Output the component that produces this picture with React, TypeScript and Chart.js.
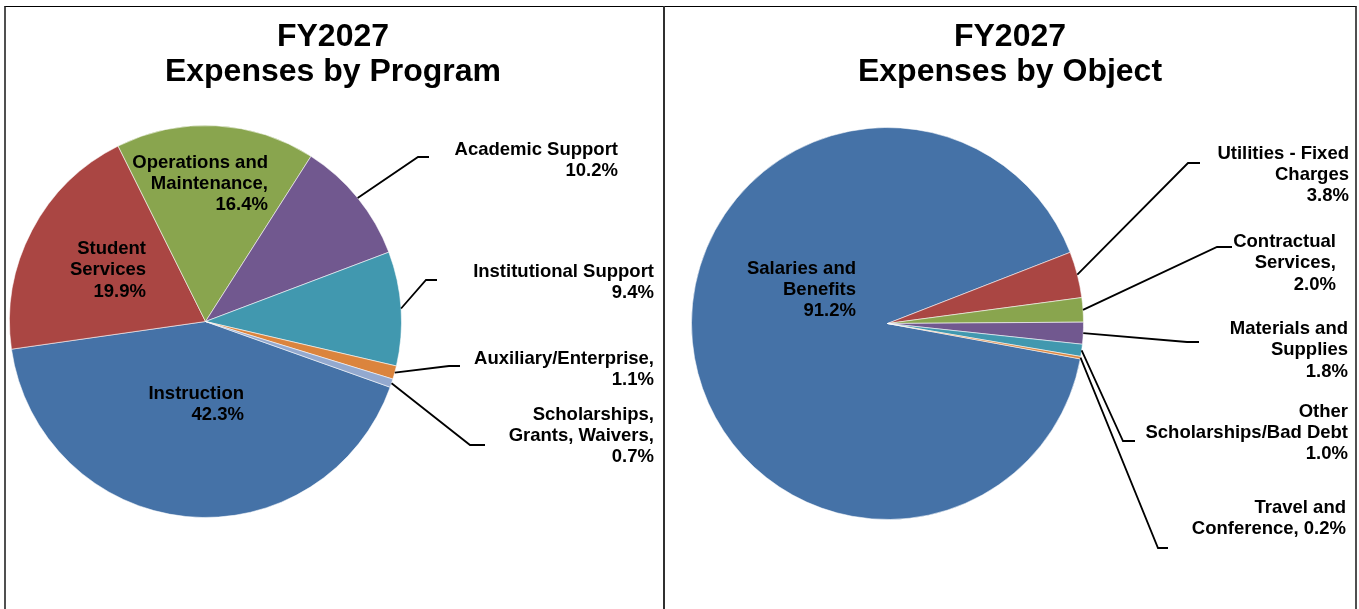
import React, { useEffect, useRef } from 'react';
import { Chart, registerables } from 'chart.js';

Chart.register(...registerables);

// ---------- DATA ----------
const programCategories = [
  'Instruction',
  'Student Services',
  'Operations and Maintenance',
  'Academic Support',
  'Institutional Support',
  'Auxiliary/Enterprise',
  'Scholarships, Grants, Waivers',
];
const programValues = [42.3, 19.9, 16.4, 10.2, 9.4, 1.1, 0.7];
const programLabelLines = [
  ['Instruction', '{pct}'],
  ['Student', 'Services', '{pct}'],
  ['Operations and', 'Maintenance,', '{pct}'],
  ['Academic Support', '{pct}'],
  ['Institutional Support', '{pct}'],
  ['Auxiliary/Enterprise,', '{pct}'],
  ['Scholarships,', 'Grants, Waivers,', '{pct}'],
];

const objectCategories = [
  'Salaries and Benefits',
  'Utilities - Fixed Charges',
  'Contractual Services',
  'Materials and Supplies',
  'Other Scholarships/Bad Debt',
  'Travel and Conference',
];
const objectValues = [91.2, 3.8, 2.0, 1.8, 1.0, 0.2];
const objectLabelLines = [
  ['Salaries and', 'Benefits', '{pct}'],
  ['Utilities - Fixed', 'Charges', '{pct}'],
  ['Contractual', 'Services,', '{pct}'],
  ['Materials and', 'Supplies', '{pct}'],
  ['Other', 'Scholarships/Bad Debt', '{pct}'],
  ['Travel and', 'Conference, {pct}'],
];

const programTitle = ['FY2027', 'Expenses by Program'];
const objectTitle = ['FY2027', 'Expenses by Object'];

// ---------- STYLE / LAYOUT ----------
const programColors = ['#4572A7', '#AA4643', '#89A54E', '#71588F', '#4198AF', '#DB843D', '#93A9CF'];
const objectColors = ['#4572A7', '#AA4643', '#89A54E', '#71588F', '#4198AF', '#DB843D'];

const FONT = '"Liberation Sans", Arial, Helvetica, sans-serif';
const W = 1359;
const H = 609;

// label placement: x = right edge of text, y = first baseline; elbow/end for leader lines
const programLayout = [
  { x: 244, y: 398.5 },
  { x: 146, y: 254 },
  { x: 268, y: 167.5 },
  { x: 618, y: 154.5, elbow: [418, 157], end: 429 },
  { x: 654, y: 276.5, elbow: [426, 280], end: 437 },
  { x: 654, y: 363.5, elbow: [449, 366], end: 460 },
  { x: 654, y: 419.5, elbow: [470, 445], end: 485 },
];
const objectLayout = [
  { x: 856, y: 273.5 },
  { x: 1349, y: 158.5, elbow: [1188, 163], end: 1200 },
  { x: 1336, y: 247, elbow: [1217, 247], end: 1232 },
  { x: 1348, y: 334, elbow: [1187, 342], end: 1199 },
  { x: 1348, y: 416.5, elbow: [1123, 441], end: 1135 },
  { x: 1346, y: 512.5, elbow: [1158, 548], end: 1168 },
];

const pieLabelPlugin = {
  id: 'pieLabels',
  afterDraw(chart: any, _args: any, opts: any) {
    const ctx = chart.ctx;
    ctx.save();
    ctx.fillStyle = '#000';
    ctx.textBaseline = 'alphabetic';
    // title
    ctx.font = `bold ${opts.titleSize}px ${FONT}`;
    ctx.textAlign = 'center';
    opts.title.forEach((line: string, i: number) => {
      ctx.fillText(line, opts.titleX, opts.titleY + i * opts.titleLineHeight);
    });
    // labels & leader lines
    const meta = chart.getDatasetMeta(0);
    const values = chart.data.datasets[0].data;
    ctx.strokeStyle = '#000';
    ctx.lineWidth = 1.8;
    ctx.lineJoin = 'miter';
    meta.data.forEach((arc: any, i: number) => {
      const lay = opts.layout[i];
      if (!lay) return;
      const p = arc.getProps(['x', 'y', 'startAngle', 'endAngle', 'outerRadius'], true);
      const mid = (p.startAngle + p.endAngle) / 2;
      if (lay.elbow) {
        const sx = p.x + Math.cos(mid) * p.outerRadius;
        const sy = p.y + Math.sin(mid) * p.outerRadius;
        ctx.beginPath();
        ctx.moveTo(sx, sy);
        ctx.lineTo(lay.elbow[0], lay.elbow[1]);
        ctx.lineTo(lay.end, lay.elbow[1]);
        ctx.stroke();
      }
      const pct = Number(values[i]).toFixed(1) + '%';
      ctx.font = `bold ${opts.labelSize}px ${FONT}`;
      ctx.textAlign = 'right';
      opts.lines[i].forEach((s: string, j: number) => {
        ctx.fillText(s.replace('{pct}', pct), lay.x, lay.y + j * opts.labelLineHeight);
      });
    });
    ctx.restore();
  },
};

function makeConfig(
  categories: string[],
  values: number[],
  colors: string[],
  rotation: number,
  padding: any,
  title: string[],
  titleX: number,
  lines: string[][],
  layout: any[]
): any {
  return {
    type: 'pie',
    data: {
      labels: categories,
      datasets: [
        {
          data: values,
          backgroundColor: colors,
          borderColor: 'rgba(255,255,255,0.55)',
          borderWidth: 1,
        },
      ],
    },
    plugins: [pieLabelPlugin],
    options: {
      responsive: false,
      animation: false,
      events: [],
      rotation,
      layout: { padding },
      plugins: {
        legend: { display: false },
        tooltip: { enabled: false },
        title: { display: false },
        pieLabels: {
          title,
          titleX,
          titleY: 45.5,
          titleSize: 32,
          titleLineHeight: 35,
          labelSize: 18.5,
          labelLineHeight: 21.3,
          lines,
          layout,
        },
      },
    },
  };
}

function PieCanvas({ config }: { config: any }) {
  const ref = useRef<HTMLCanvasElement | null>(null);
  useEffect(() => {
    if (!ref.current) return;
    const chart = new Chart(ref.current, config);
    return () => chart.destroy();
  }, [config]);
  return (
    <canvas
      ref={ref}
      width={W}
      height={H}
      style={{ position: 'absolute', left: 0, top: 0, width: W, height: H }}
    />
  );
}

const programConfig = makeConfig(
  programCategories,
  programValues,
  programColors,
  109.6,
  { left: 9, top: 125, right: W - 402, bottom: H - 518 },
  programTitle,
  333,
  programLabelLines,
  programLayout
);

const objectConfig = makeConfig(
  objectCategories,
  objectValues,
  objectColors,
  100.4,
  { left: 691, top: 127, right: W - 1084, bottom: H - 520 },
  objectTitle,
  1010,
  objectLabelLines,
  objectLayout
);

export default function App() {
  return (
    <div
      style={{
        position: 'absolute',
        left: 0,
        top: 0,
        width: W,
        height: H,
        overflow: 'hidden',
        background: '#fff',
      }}
    >
      <div
        style={{
          position: 'absolute',
          left: 4,
          top: 6,
          width: 1353,
          height: H - 6,
          boxSizing: 'border-box',
          borderTop: '1px solid #000',
          borderLeft: '2px solid #505050',
          borderRight: '2px solid #505050',
        }}
      />
      <div
        style={{
          position: 'absolute',
          left: 663,
          top: 6,
          width: 2,
          height: H - 6,
          background: '#303030',
        }}
      />
      <PieCanvas config={programConfig} />
      <PieCanvas config={objectConfig} />
    </div>
  );
}
